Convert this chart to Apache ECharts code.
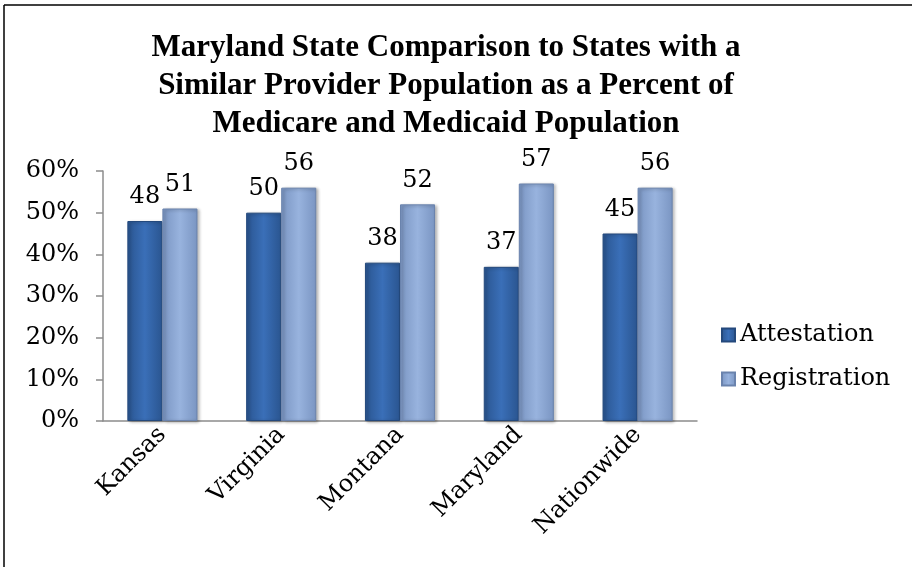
<!DOCTYPE html>
<html>
<head>
<meta charset="utf-8">
<script src="https://cdn.jsdelivr.net/npm/echarts@6/dist/echarts.min.js"></script>
<style>
  html, body { margin: 0; padding: 0; background: #fff; }
  #chart { width: 912px; height: 567px; }
</style>
</head>
<body>
<div id="chart"></div>
<script>
// data
const categories = ['Kansas', 'Virginia', 'Montana', 'Maryland', 'Nationwide'];
const attestation = [48, 50, 38, 37, 45];
const registration = [51, 56, 52, 57, 56];
const yTicks = [0, 10, 20, 30, 40, 50, 60];

const SERIF = '"DejaVu Serif", serif';
const TEXT_SIZE = 24;

// bevelled look: darker edges, lighter middle
const barFill = (edge, mid) => new echarts.graphic.LinearGradient(0, 0, 1, 0, [
  { offset: 0, color: edge },
  { offset: 0.5, color: mid },
  { offset: 1, color: edge },
]);

const barLabel = {
  show: true,
  position: 'top',
  distance: 12,
  fontFamily: SERIF,
  fontSize: TEXT_SIZE,
  color: '#000',
};

const chart = echarts.init(document.getElementById('chart'), null, { renderer: 'canvas' });

chart.setOption({
  backgroundColor: '#fff',
  animation: false,
  title: {
    text: 'Maryland State Comparison to States with a\nSimilar Provider Population as a Percent of\nMedicare and Medicaid Population',
    left: 441,
    top: 24,
    textAlign: 'center',
    textStyle: {
      fontFamily: '"Liberation Serif", serif',
      fontWeight: 'bold',
      fontSize: 31,
      lineHeight: 38,
      color: '#000',
    },
  },
  grid: { left: 103, right: 215, top: 171, bottom: 146, containLabel: false },
  legend: {
    orient: 'vertical',
    left: 716,
    top: 318,
    itemWidth: 13,
    itemHeight: 13,
    itemGap: 20,
    icon: 'rect',
    textStyle: { fontFamily: SERIF, fontSize: TEXT_SIZE, color: '#000', padding: [0, 0, 0, 0] },
    data: ['Attestation', 'Registration'],
  },
  xAxis: {
    type: 'category',
    data: categories,
    axisLine: { lineStyle: { color: '#8c8c8c', width: 1.5 } },
    axisTick: { show: false },
    axisLabel: {
      rotate: 45,
      margin: 10,
      fontFamily: SERIF,
      fontSize: TEXT_SIZE,
      color: '#000',
      interval: 0,
    },
  },
  yAxis: {
    type: 'value',
    min: yTicks[0],
    max: yTicks[yTicks.length - 1],
    interval: 10,
    axisLine: { show: true, lineStyle: { color: '#8c8c8c', width: 1.5 } },
    axisTick: { show: true, inside: false, length: 7, lineStyle: { color: '#8c8c8c', width: 1.5 } },
    splitLine: { show: false },
    axisLabel: {
      margin: 24,
      fontFamily: SERIF,
      fontSize: TEXT_SIZE,
      color: '#000',
      formatter: (v) => v + '%',
    },
  },
  series: [
    {
      name: 'Attestation',
      type: 'bar',
      data: attestation,
      barGap: '0%',
      barCategoryGap: '41%',
      itemStyle: {
        color: barFill('#2a5590', '#3a6fb8'),
        borderColor: '#24497c',
        borderWidth: 1,
        shadowColor: 'rgba(0,0,0,0.3)',
        shadowBlur: 3,
        shadowOffsetX: 2,
        shadowOffsetY: 1,
      },
      label: barLabel,
    },
    {
      name: 'Registration',
      type: 'bar',
      data: registration,
      itemStyle: {
        color: barFill('#7a95c2', '#98b3de'),
        borderColor: '#6a83ad',
        borderWidth: 1,
        shadowColor: 'rgba(0,0,0,0.3)',
        shadowBlur: 3,
        shadowOffsetX: 2,
        shadowOffsetY: 1,
      },
      label: barLabel,
    },
  ],
  graphic: [
    { type: 'line', shape: { x1: 4, y1: 5, x2: 912, y2: 5 }, style: { stroke: '#000', lineWidth: 1.5 } },
    { type: 'line', shape: { x1: 4, y1: 5, x2: 4, y2: 567 }, style: { stroke: '#000', lineWidth: 1.5 } },
  ],
});
</script>
</body>
</html>
